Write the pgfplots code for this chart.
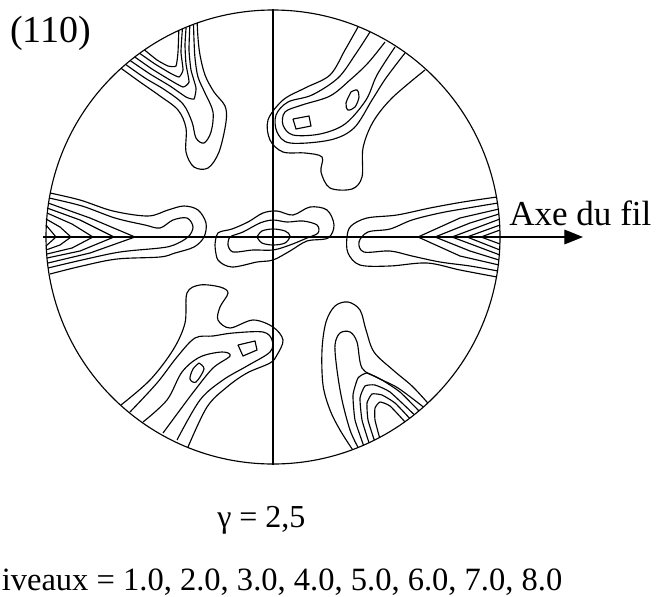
\documentclass[border=0pt]{standalone}
\usepackage{fontspec}
\setmainfont{Liberation Serif}
\usepackage{pgfplots}
\pgfplotsset{compat=1.18}
\usetikzlibrary{arrows.meta}

\begin{document}
\begin{tikzpicture}
\begin{axis}[
  width=494.25pt, height=447pt, scale only axis,
  xmin=0, xmax=659, ymin=0, ymax=596, y dir=reverse,
  hide axis, clip=false,
  ct/.style={black, line width=0.85pt, smooth, tension=0.55},
  ci/.style={black, line width=0.85pt, smooth, tension=0.3},
  band/.style={black, line width=0.85pt, sharp plot},
]
\coordinate (bl) at (axis cs:0,596);
\coordinate (tr) at (axis cs:659,0);

% frame: circle and the two axes
\draw[line width=0.85pt] (axis cs:273,237) circle[radius=170.25pt];
\addplot[band] coordinates {(273,9) (273,465)};
\addplot[black, line width=0.85pt, -{Triangle[length=14pt,width=11pt]}] coordinates {(43,237) (583,237)};

% centre
\addplot[ct] coordinates {(257,237) (262,231) (273,229) (285,231) (290,236) (285,243) (273,245) (262,243) (257,237)};
\addplot[ct] coordinates {(228,245) (230,237) (243,232) (260,223) (273,220) (287,222) (303,221) (317,225) (318,233) (307,238) (290,245) (273,250) (253,250) (233,252) (228,245)};
\addplot[ct] coordinates {(215,245) (218,233) (232,229) (248,222) (263,213) (277,211) (293,215) (310,207) (327,210) (334,225) (328,238) (307,241) (290,251) (273,260) (257,262) (232,267) (218,260) (215,245)};

% left band
\addplot[ct] coordinates {(50,193) (80,200) (113,211) (148,216) (168,210) (184,206) (198,210) (206,223) (204,237) (194,247) (175,253) (160,257) (117,259) (82,266) (50,274)};
\addplot[ct] coordinates {(49,198) (82,206) (115,218) (145,225) (160,228) (173,220) (187,218) (193,227) (188,237) (174,245) (160,248) (120,252) (82,260) (48,268)};
\addplot[band] coordinates {(48,203) (90,218) (135,237) (90,253) (48,263)};
\addplot[band] coordinates {(47,208) (80,220) (114,237) (80,251) (47,258)};
\addplot[band] coordinates {(47,213) (72,224) (93,237) (72,248) (47,254)};
\addplot[band] coordinates {(46,219) (60,227) (71,237) (60,245) (46,250)};
\addplot[band] coordinates {(46,225) (56,237) (46,246)};

% right band
\addplot[ct] coordinates {(497,197) (463,202) (430,208) (397,215) (367,218) (351,226) (347,237) (348,253) (360,265) (390,266) (427,263) (460,270) (497,277)};
\addplot[ct] coordinates {(498,203) (468,208) (440,213) (412,220) (390,229) (368,232) (359,242) (364,252) (390,251) (412,256) (440,262) (470,266) (498,271)};
\addplot[band] coordinates {(499,209) (460,218) (418,237) (460,256) (499,265)};
\addplot[band] coordinates {(499,214) (470,223) (435,237) (470,251) (499,260)};
\addplot[band] coordinates {(500,219) (476,228) (452,237) (476,246) (500,255)};
\addplot[band] coordinates {(500,225) (467,237) (500,250)};
\addplot[band] coordinates {(500,230) (481,237) (500,244)};

% top-left lobe
\addplot[ct] coordinates {(121.1,68.3) (140,82) (160,96) (178,110) (186,128) (186,152) (194,167) (208,168) (219,152) (226,122) (225,106) (214,92) (205,75) (200,55) (198,38) (197.2,23.0)};
\addplot[ct] coordinates {(125.6,64.4) (145,78) (165,90) (183,104) (192,122) (196,138) (204,143) (211,132) (213,112) (205,93) (198,77) (195,58) (194,40) (193.5,24.3)};
\addplot[ci] coordinates {(130.2,60.6) (150,74) (170,86) (186,97) (194,99) (196,88) (191,70) (189,50) (189.8,25.9)};
\addplot[ci] coordinates {(134.8,57.0) (152,69) (170,80) (183,87) (189,82) (186,64) (185,45) (186.1,27.3)};
\addplot[ci] coordinates {(139.6,53.3) (155,64) (170,73) (179,77) (183,70) (181,52) (182.4,28.8)};
\addplot[ci] coordinates {(144.5,49.9) (157,60) (168,66) (176,66) (178,52) (178.8,30.4)};

% top-right lobe
\addplot[ct] coordinates {(358,27) (345,50) (330,75) (305,88) (283,100) (268,120) (270,140) (283,152) (305,153) (322,157) (321,172) (330,188) (352,189) (362,177) (363,148) (373,122) (392,98) (425,70)};
\addplot[ct] coordinates {(370,32) (355,55) (338,78) (312,95) (288,102) (276,115) (277,132) (290,143) (330,140) (354,128) (372,100) (386,78) (405,53)};
\addplot[ct] coordinates {(385,42) (368,63) (350,80) (330,96) (302,105) (285,112) (283,125) (293,135) (320,134) (345,124) (366,100) (377,75) (395,47)};
\addplot[ct] coordinates {(351,92) (357,90) (359,97) (355,107) (348,110) (346,103) (351,92)};
\addplot[band] coordinates {(293,119) (309,116) (311,126) (296,129) (293,119)};

% bottom-left lobe
\addplot[ct] coordinates {(121,405) (150,380) (173,350) (185,323) (187,293) (200,285) (220,287) (228,293) (220,307) (218,320) (230,328) (253,320) (273,327) (283,340) (277,355) (270,363) (247,373) (227,387) (207,407) (188,447)};
\addplot[ct] coordinates {(130,412) (157,383) (177,357) (195,338) (213,336) (233,333) (263,332) (272,340) (270,352) (247,366) (223,380) (200,400) (177,440)};
\addplot[ct] coordinates {(143,422) (167,400) (182,372) (200,357) (222,352) (230,356) (213,368) (195,390) (180,410) (163,433)};
\addplot[band] coordinates {(238,345) (255,341) (257,350) (243,356) (238,345)};
\addplot[ct] coordinates {(199,363) (204,369) (196,382) (190,379) (193,369) (199,363)};

% bottom-right lobe
\addplot[ct] coordinates {(352.5,449.6) (340,430) (330,410) (323,385) (322,350) (326,322) (335,306) (348,302) (360,310) (366,330) (374,352) (393,370) (412,386) (427.8,403.0)};
\addplot[ct] coordinates {(358.1,447.5) (350,430) (342,400) (337,370) (335,345) (340,333) (350,332) (357,342) (362,368) (378,378) (398,388) (423.4,407.0)};
\addplot[ci] coordinates {(363.5,445.2) (355,420) (353,395) (358,378) (367,373) (382,380) (400,392) (418.9,410.9)};
\addplot[ci] coordinates {(369.0,442.7) (362,420) (360,398) (365,386) (375,385) (390,392) (414.3,414.7)};
\addplot[ci] coordinates {(374.3,440.2) (368,420) (367,403) (372,394) (382,395) (395,403) (409.6,418.3)};
\addplot[ci] coordinates {(379.5,437.4) (375,420) (375,408) (380,402) (390,406) (404.9,421.8)};

% texts
\node[anchor=base west, inner sep=0pt, font=\fontsize{28.5pt}{33pt}\selectfont] at (axis cs:10,42) {(110)};
\node[anchor=base west, inner sep=0pt, font=\fontsize{26.3pt}{31pt}\selectfont] at (axis cs:509,225) {Axe du fil};
\node[anchor=base west, inner sep=0pt, font=\fontsize{24pt}{29pt}\selectfont] at (axis cs:217,527) {γ = 2,5};
\node[anchor=base west, inner sep=0pt, font=\fontsize{24.4pt}{29pt}\selectfont] at (axis cs:1.5,590) {iveaux = 1.0, 2.0, 3.0, 4.0, 5.0, 6.0, 7.0, 8.0};
\end{axis}
\pgfresetboundingbox
\useasboundingbox (bl) rectangle (tr);
\end{tikzpicture}
\end{document}
